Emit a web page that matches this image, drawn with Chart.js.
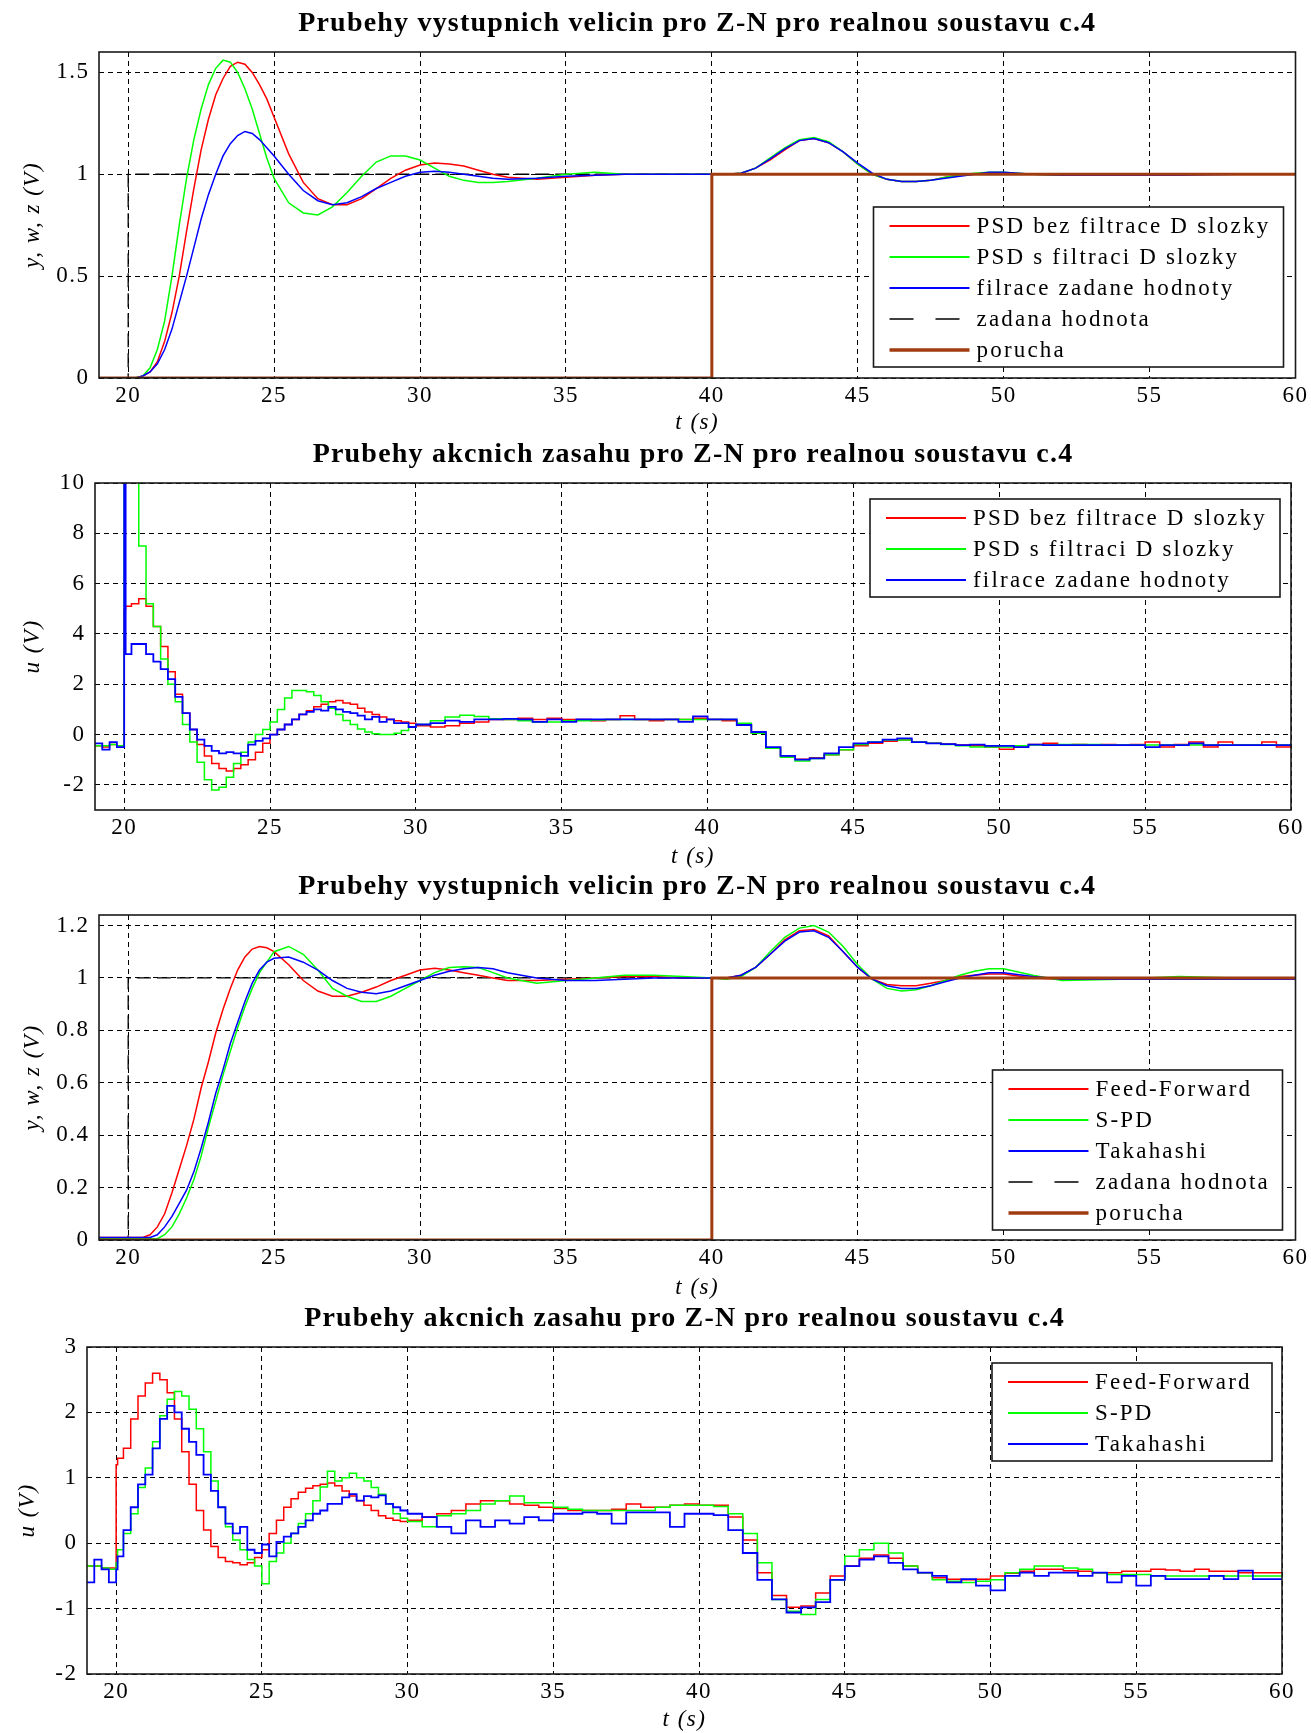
<!DOCTYPE html>
<html>
<head>
<meta charset="utf-8">
<script src="https://cdn.jsdelivr.net/npm/chart.js@4.4.0/dist/chart.umd.min.js"></script>
<style>
  body { margin: 0; background: #fff; }
  #page { position: relative; width: 1311px; height: 1733px; overflow: hidden; }
  canvas { position: absolute; left: 0; }
</style>
</head>
<body>
<div id="page">
  <canvas id="chart1" width="1311" height="434" style="top:6px"></canvas>
  <canvas id="chart2" width="1311" height="435" style="top:437px"></canvas>
  <canvas id="chart3" width="1311" height="433" style="top:869px"></canvas>
  <canvas id="chart4" width="1311" height="433" style="top:1301px"></canvas>
</div>
<script>
// tick values
const xTicks = [20, 25, 30, 35, 40, 45, 50, 55, 60];
const yTicksOut1 = [0, 0.5, 1, 1.5];
const yTicksU1 = [-2, 0, 2, 4, 6, 8, 10];
const yTicksOut2 = [0, 0.2, 0.4, 0.6, 0.8, 1, 1.2];
const yTicksU2 = [-2, -1, 0, 1, 2, 3];

const labelsPsd = ['PSD bez filtrace D slozky', 'PSD s filtraci D slozky', 'filrace zadane hodnoty'];
const labelsAlt = ['Feed-Forward', 'S-PD', 'Takahashi'];

// zadana hodnota (w) a porucha (z)
const tSet = [19, 20, 20, 60];
const wSet = [0, 0, 1, 1];
const tDist = [19, 40, 40, 60];
const zDist = [0, 0, 1, 1];

// cas pro vystupni veliciny
const tOut = [19, 20.25, 20.5, 20.75, 21, 21.25, 21.5, 21.75, 22, 22.25, 22.5, 22.75, 23, 23.25, 23.5, 23.75, 24, 24.25, 24.5, 24.75, 25,
  25.5, 26, 26.5, 27, 27.5, 28, 28.5, 29, 29.5, 30, 30.5, 31, 31.5, 32, 32.5,
  33, 34, 35, 36, 37, 38, 39, 40,
  40.5, 41, 41.5, 42, 42.5, 43, 43.5, 44, 44.5, 45, 45.5, 46, 46.5, 47, 47.5, 48, 48.5, 49, 49.5, 50,
  51, 52, 54, 56, 58, 60];

const yPsdRaw = [0, 0, 0.01, 0.03, 0.08, 0.18, 0.32, 0.5, 0.72, 0.93, 1.12, 1.27, 1.39, 1.47, 1.53, 1.55, 1.54, 1.5, 1.44, 1.37, 1.28,
  1.1, 0.96, 0.88, 0.85, 0.85, 0.88, 0.93, 0.98, 1.02, 1.045, 1.055, 1.05, 1.04, 1.02, 1.0,
  0.985, 0.975, 0.985, 0.995, 1.0, 1.0, 1.0, 1.0,
  1.0, 1.005, 1.03, 1.07, 1.12, 1.165, 1.175, 1.155, 1.11, 1.05, 1.0, 0.975, 0.965, 0.965, 0.97, 0.985, 0.995, 1.0, 1.005, 1.005,
  1.0, 1.0, 1.0, 1.0, 1.0, 1.0];
const yPsdFilt = [0, 0, 0.01, 0.05, 0.14, 0.28, 0.5, 0.75, 0.98, 1.17, 1.32, 1.44, 1.52, 1.56, 1.55, 1.5, 1.42, 1.32, 1.2, 1.08, 0.98,
  0.86, 0.81, 0.8, 0.84, 0.91, 0.99, 1.06, 1.09, 1.09, 1.07, 1.03, 0.99, 0.97, 0.96, 0.96,
  0.965, 0.98, 1.0, 1.01, 1.0, 1.0, 1.0, 1.0,
  1.0, 1.005, 1.03, 1.08, 1.13, 1.17, 1.18, 1.16, 1.11, 1.05, 1.0, 0.975, 0.965, 0.965, 0.97, 0.985, 0.995, 1.005, 1.01, 1.01,
  1.0, 0.995, 0.995, 1.0, 1.0, 1.0];
const yRefFilt = [0, 0, 0.01, 0.03, 0.07, 0.14, 0.24, 0.37, 0.5, 0.64, 0.78, 0.9, 1.0, 1.09, 1.15, 1.19, 1.21, 1.2, 1.17, 1.13, 1.09,
  1.0, 0.92, 0.87, 0.85, 0.86, 0.89, 0.93, 0.96, 0.99, 1.01, 1.015, 1.01, 1.0, 0.99, 0.98,
  0.975, 0.98, 0.99, 0.995, 1.0, 1.0, 1.0, 1.0,
  1.0, 1.005, 1.03, 1.075, 1.125, 1.165, 1.175, 1.155, 1.11, 1.055, 1.005, 0.975, 0.965, 0.965, 0.97, 0.98, 0.99, 1.0, 1.01, 1.01,
  1.0, 0.995, 0.995, 0.995, 1.0, 1.0];

const yFF = [0.01, 0.01, 0.01, 0.02, 0.05, 0.1, 0.18, 0.27, 0.36, 0.46, 0.58, 0.68, 0.79, 0.88, 0.96, 1.03, 1.08, 1.11, 1.12, 1.115, 1.1,
  1.05, 0.99, 0.95, 0.93, 0.93, 0.945, 0.965, 0.99, 1.01, 1.03, 1.037, 1.03, 1.02, 1.01, 1.0,
  0.99, 0.99, 0.995, 1.0, 1.005, 1.005, 1.0, 1.0,
  1.0, 1.01, 1.04, 1.09, 1.145, 1.18, 1.185, 1.16, 1.1, 1.04, 0.995, 0.975, 0.97, 0.97, 0.98, 0.99, 1.005, 1.01, 1.015, 1.015,
  1.0, 0.995, 1.0, 1.0, 0.995, 1.0];
const ySPD = [0.005, 0.005, 0.005, 0.005, 0.005, 0.02, 0.05, 0.1, 0.16, 0.23, 0.32, 0.43, 0.53, 0.63, 0.72, 0.81, 0.89, 0.96, 1.02, 1.06, 1.1,
  1.12, 1.09, 1.03, 0.96, 0.93, 0.91, 0.91, 0.93, 0.96, 0.99, 1.02, 1.04, 1.043, 1.04, 1.02,
  1.0, 0.98, 0.99, 1.0, 1.01, 1.01, 1.005, 1.0,
  0.995, 1.005, 1.04, 1.1, 1.155, 1.19, 1.2, 1.175, 1.12, 1.05, 0.995, 0.96, 0.95, 0.955, 0.97, 0.99, 1.01, 1.025, 1.035, 1.035,
  1.01, 0.99, 0.995, 1.005, 1.0, 1.0];
const yTak = [0.01, 0.01, 0.01, 0.01, 0.02, 0.05, 0.09, 0.14, 0.19, 0.26, 0.35, 0.45, 0.56, 0.65, 0.75, 0.83, 0.91, 0.98, 1.03, 1.06, 1.075,
  1.08, 1.06, 1.03, 0.99, 0.96, 0.945, 0.94, 0.95, 0.97, 0.99, 1.01, 1.025, 1.035, 1.04, 1.035,
  1.02, 1.0, 0.99, 0.99, 0.995, 1.0, 1.0, 1.0,
  1.0, 1.01, 1.04, 1.09, 1.14, 1.175, 1.18, 1.155, 1.1, 1.04, 0.995, 0.97, 0.96, 0.96, 0.97, 0.985, 1.0, 1.01, 1.02, 1.02,
  1.005, 0.995, 0.995, 0.995, 0.995, 0.995];

// cas pro akcni zasahy
const tU = [19, 19.25, 19.5, 19.75, 20, 20.05,
  20.25, 20.5, 20.75, 21, 21.25, 21.5, 21.75, 22, 22.25, 22.5,
  22.75, 23, 23.25, 23.5, 23.75, 24, 24.25, 24.5, 24.75, 25,
  25.25, 25.5, 25.75, 26, 26.25, 26.5, 26.75, 27, 27.25, 27.5,
  27.75, 28, 28.25, 28.5, 28.75, 29, 29.25, 29.5, 29.75, 30,
  30.5, 31, 31.5, 32, 32.5, 33, 33.5, 34, 34.5, 35,
  35.5, 36, 36.5, 37, 37.5, 38, 38.5, 39, 39.5, 40,
  40.5, 41, 41.5, 42, 42.5, 43, 43.5, 44, 44.5, 45,
  45.5, 46, 46.5, 47, 47.5, 48, 48.5, 49, 49.5, 50,
  50.5, 51, 51.5, 52, 52.5, 53, 53.5, 54, 54.5, 55,
  55.5, 56, 56.5, 57, 57.5, 58, 58.5, 59, 59.5, 60];

const uPsdRaw = [-0.45, -0.5, -0.4, -0.45, 5.0, 5.1,
  5.2, 5.4, 5.1, 4.3, 3.5, 2.5, 1.6, 0.85, 0.2, -0.4,
  -0.85, -1.15, -1.35, -1.45, -1.35, -1.2, -1.0, -0.7, -0.35, 0.0,
  0.2, 0.4, 0.6, 0.8, 0.95, 1.1, 1.2, 1.3, 1.35, 1.25,
  1.2, 1.05, 0.9, 0.8, 0.7, 0.6, 0.55, 0.5, 0.45, 0.35,
  0.3, 0.35, 0.45, 0.5, 0.6, 0.6, 0.65, 0.6, 0.65, 0.6,
  0.6, 0.55, 0.6, 0.75, 0.6, 0.55, 0.6, 0.6, 0.65, 0.6,
  0.55, 0.42, 0.05, -0.55, -0.85, -0.98, -0.92, -0.8, -0.6, -0.45,
  -0.35, -0.27, -0.22, -0.3, -0.35, -0.38, -0.42, -0.45, -0.5, -0.58,
  -0.45, -0.4, -0.35, -0.42, -0.4, -0.42, -0.4, -0.42, -0.4, -0.3,
  -0.5, -0.4, -0.3, -0.5, -0.3, -0.42, -0.42, -0.3, -0.5, -0.42];
const uPsdFilt = [-0.45, -0.45, -0.4, -0.45, 10.5, 10.5,
  10.5, 7.5, 5.2, 4.3, 3.0, 2.0, 1.3, 0.4, -0.3, -1.1,
  -1.8, -2.2, -2.1, -1.7, -1.15, -0.7, -0.3, 0.0, 0.2, 0.5,
  1.0, 1.45, 1.75, 1.75, 1.7, 1.55, 1.3, 1.05, 0.8, 0.56,
  0.4, 0.22, 0.1, 0.03, 0.0, 0.0, 0.05, 0.16, 0.3, 0.4,
  0.55, 0.7, 0.77, 0.72, 0.63, 0.6, 0.55, 0.5, 0.5, 0.55,
  0.55, 0.58, 0.6, 0.6, 0.6, 0.6, 0.6, 0.6, 0.6, 0.6,
  0.6, 0.45, 0.05, -0.55, -0.9, -1.05, -0.95, -0.8, -0.6, -0.4,
  -0.3, -0.22, -0.22, -0.3, -0.35, -0.4, -0.45, -0.5, -0.5, -0.5,
  -0.45, -0.42, -0.42, -0.4, -0.4, -0.4, -0.42, -0.42, -0.42, -0.42,
  -0.42, -0.42, -0.42, -0.42, -0.42, -0.42, -0.42, -0.42, -0.42, -0.42];
const uRefFilt = [-0.35, -0.6, -0.3, -0.5, 10.5, 3.2,
  3.6, 3.6, 3.2, 2.9, 2.6, 2.2, 1.5, 0.85, 0.2, -0.2,
  -0.45, -0.65, -0.75, -0.7, -0.75, -0.85, -0.4, -0.25, -0.15, 0.0,
  0.2, 0.4, 0.6, 0.8, 0.9, 1.0, 0.95, 1.1, 1.0, 0.9,
  0.85, 0.75, 0.6, 0.7, 0.5, 0.6, 0.45, 0.45, 0.3, 0.4,
  0.45, 0.55, 0.5, 0.6, 0.6, 0.62, 0.6, 0.5, 0.6, 0.5,
  0.6, 0.6, 0.6, 0.6, 0.6, 0.6, 0.6, 0.5, 0.72, 0.6,
  0.6, 0.38, 0.1, -0.5, -0.85, -1.0, -0.95, -0.75, -0.5, -0.35,
  -0.3, -0.2, -0.15, -0.3, -0.35, -0.38, -0.42, -0.4, -0.45, -0.45,
  -0.5, -0.4, -0.42, -0.42, -0.42, -0.42, -0.42, -0.42, -0.42, -0.5,
  -0.42, -0.42, -0.35, -0.42, -0.42, -0.42, -0.42, -0.42, -0.42, -0.35];

const uFF = [-0.35, -0.35, -0.38, -0.38, 1.2, 1.3,
  1.45, 1.9, 2.25, 2.45, 2.6, 2.5, 2.3, 1.9, 1.4, 0.9,
  0.5, 0.2, -0.05, -0.22, -0.28, -0.3, -0.33, -0.3, -0.22, -0.1,
  0.15, 0.35, 0.55, 0.68, 0.78, 0.84, 0.88, 0.9, 0.92, 0.88,
  0.8, 0.72, 0.65, 0.58, 0.5, 0.42, 0.38, 0.35, 0.33, 0.35,
  0.4, 0.45, 0.5, 0.6, 0.65, 0.65, 0.6, 0.58, 0.55, 0.53,
  0.5, 0.5, 0.5, 0.52, 0.6, 0.55, 0.55, 0.58, 0.6, 0.58,
  0.58, 0.4, 0.05, -0.45, -0.8, -0.98, -0.96, -0.76, -0.5, -0.35,
  -0.23, -0.18, -0.23, -0.35, -0.45, -0.53, -0.55, -0.56, -0.55, -0.5,
  -0.46, -0.43, -0.4, -0.4, -0.42, -0.43, -0.45, -0.45, -0.43, -0.43,
  -0.4, -0.41, -0.43, -0.4, -0.43, -0.43, -0.45, -0.45, -0.45, -0.45];
const uSPD = [-0.35, -0.35, -0.38, -0.4, -0.3, -0.1,
  0.15, 0.45, 0.85, 1.15, 1.55, 1.95, 2.2, 2.32, 2.25, 2.05,
  1.75, 1.4, 0.95, 0.55, 0.25, 0.05, -0.1, -0.25, -0.35, -0.62,
  -0.28, -0.15, 0.0, 0.15, 0.3, 0.45, 0.65, 0.86, 1.1, 0.95,
  1.0, 1.07, 1.0, 0.95, 0.85, 0.75, 0.6, 0.45, 0.38, 0.33,
  0.25, 0.42, 0.45, 0.5, 0.6, 0.65, 0.72, 0.62, 0.62, 0.55,
  0.52, 0.5, 0.5, 0.5, 0.5, 0.5, 0.55, 0.58, 0.58, 0.58,
  0.56, 0.45, 0.15, -0.3, -0.86, -1.04, -1.09, -0.86, -0.56, -0.2,
  -0.1, 0.0, -0.15, -0.35, -0.45, -0.56, -0.58, -0.6, -0.58, -0.56,
  -0.45, -0.4, -0.35, -0.35, -0.38, -0.4, -0.45, -0.48, -0.48, -0.48,
  -0.5, -0.5, -0.5, -0.5, -0.5, -0.5, -0.5, -0.5, -0.5, -0.5];
const uTak = [-0.6, -0.25, -0.4, -0.6, -0.4, -0.2,
  0.2, 0.55, 0.9, 1.05, 1.45, 1.9, 2.1, 2.0, 1.75, 1.55,
  1.35, 1.05, 0.8, 0.55, 0.3, 0.15, 0.25, -0.1, -0.15, -0.02,
  -0.2, 0.02, 0.1, 0.15, 0.25, 0.35, 0.45, 0.5, 0.6, 0.6,
  0.7, 0.75, 0.65, 0.72, 0.7, 0.73, 0.6, 0.55, 0.5, 0.45,
  0.4, 0.25, 0.15, 0.35, 0.25, 0.35, 0.3, 0.4, 0.35, 0.45,
  0.45, 0.47, 0.45, 0.3, 0.47, 0.47, 0.47, 0.25, 0.45, 0.45,
  0.43, 0.2, -0.15, -0.56, -0.86, -1.06, -0.98, -0.9, -0.56, -0.35,
  -0.25, -0.2, -0.3, -0.4, -0.45, -0.5, -0.6, -0.55, -0.65, -0.72,
  -0.5, -0.45, -0.5, -0.45, -0.45, -0.5, -0.45, -0.6, -0.5, -0.65,
  -0.5, -0.55, -0.55, -0.55, -0.5, -0.55, -0.42, -0.55, -0.55, -0.55];

const FAMILY = '"Liberation Serif", "Times New Roman", serif';
const RED = '#ff0000', GREEN = '#00ff00', BLUE = '#0000ff', BROWN = '#a03c10';

function pts(t, v) {
  return t.map((x, i) => ({ x: x, y: v[i] }));
}

// ramecek, nadpis a legenda uvnitr grafu
const framePlugin = {
  id: 'frame',
  beforeDraw(chart) {
    chart.ctx.letterSpacing = '1.5px';
  },
  afterDraw(chart, args, opts) {
    const ctx = chart.ctx;
    const a = chart.chartArea;
    ctx.save();
    ctx.setLineDash([]);
    ctx.lineWidth = 1.6;
    ctx.strokeStyle = '#1a1a1a';
    ctx.strokeRect(a.left, a.top, a.right - a.left, a.bottom - a.top);

    ctx.fillStyle = '#000';
    ctx.font = 'bold 28px ' + FAMILY;
    ctx.letterSpacing = '1.2px';
    ctx.textAlign = 'center';
    ctx.textBaseline = 'middle';
    ctx.fillText(opts.title, (a.left + a.right) / 2, a.top - 28);

    const lg = opts.legend;
    const rows = chart.data.datasets;
    const h = 19 + (rows.length - 1) * 31 + 17;
    const bx = a.right - lg.dx - lg.width;
    const by = lg.corner === 'top' ? a.top + lg.dy : a.bottom - lg.dy - h;
    ctx.fillStyle = '#fff';
    ctx.fillRect(bx, by, lg.width, h);
    ctx.strokeRect(bx, by, lg.width, h);
    ctx.font = '23px ' + FAMILY;
    ctx.letterSpacing = '2.2px';
    ctx.textAlign = 'left';
    rows.forEach((ds, i) => {
      const y = by + 19 + i * 31;
      ctx.beginPath();
      ctx.setLineDash(ds.legendDash || []);
      ctx.strokeStyle = ds.borderColor;
      ctx.lineWidth = ds.borderWidth + 0.3;
      ctx.moveTo(bx + 16, y);
      ctx.lineTo(bx + 96, y);
      ctx.stroke();
      ctx.setLineDash([]);
      ctx.fillStyle = '#000';
      ctx.fillText(ds.label, bx + 103, y + 1);
    });
    ctx.restore();
  }
};

function makeChart(id, cfg) {
  const ctx = document.getElementById(id).getContext('2d');
  return new Chart(ctx, {
    type: 'line',
    data: { datasets: cfg.datasets },
    options: {
      responsive: false,
      animation: false,
      events: [],
      layout: { padding: { top: 46, right: cfg.padRight, left: 0, bottom: 0 } },
      elements: { point: { radius: 0 }, line: { tension: 0 } },
      plugins: {
        legend: { display: false },
        tooltip: { enabled: false },
        frame: { title: cfg.title, legend: cfg.legend }
      },
      scales: {
        x: {
          type: 'linear', min: 19, max: 60,
          afterBuildTicks: axis => { axis.ticks = xTicks.map(v => ({ value: v })); },
          afterFit: axis => { axis.height = cfg.xH; },
          grid: { color: '#000', lineWidth: 1, drawTicks: false },
          border: { display: false, dash: [5, 4] },
          ticks: { padding: 4, autoSkip: false, maxRotation: 0, color: '#000',
                   font: { family: FAMILY, size: 23 }, callback: v => String(v) },
          title: { display: true, text: 't (s)', color: '#000',
                   font: { family: FAMILY, size: 23, style: 'italic' },
                   padding: { top: 0, bottom: cfg.xTitlePad } }
        },
        y: {
          type: 'linear', min: cfg.yMin, max: cfg.yMax,
          afterBuildTicks: axis => { axis.ticks = cfg.yTicks.map(v => ({ value: v })); },
          afterFit: axis => { axis.width = cfg.yW; },
          grid: { color: '#000', lineWidth: 1, drawTicks: false },
          border: { display: false, dash: [5, 4] },
          ticks: { padding: 9.5, color: '#000', font: { family: FAMILY, size: 23 }, callback: v => String(v) },
          title: { display: true, text: cfg.yTitle, color: '#000',
                   font: { family: FAMILY, size: 23, style: 'italic' },
                   padding: { top: cfg.yTitlePad, bottom: 0 } }
        }
      }
    },
    plugins: [framePlugin]
  });
}

function outSets(labels, r, g, b) {
  return [
    { label: labels[0], data: pts(tOut, r), borderColor: RED, borderWidth: 1.5, order: 3 },
    { label: labels[1], data: pts(tOut, g), borderColor: GREEN, borderWidth: 1.5, order: 2 },
    { label: labels[2], data: pts(tOut, b), borderColor: BLUE, borderWidth: 1.5, order: 1 },
    { label: 'zadana hodnota', data: pts(tSet, wSet), borderColor: '#000', borderWidth: 1.3,
      borderDash: [14, 6], legendDash: [24, 22], order: 4 },
    { label: 'porucha', data: pts(tDist, zDist), borderColor: BROWN, borderWidth: 3, order: 0 }
  ];
}

function uSets(labels, r, g, b) {
  return [
    { label: labels[0], data: pts(tU, r), borderColor: RED, borderWidth: 1.5, stepped: true, order: 3 },
    { label: labels[1], data: pts(tU, g), borderColor: GREEN, borderWidth: 1.5, stepped: true, order: 2 },
    { label: labels[2], data: pts(tU, b), borderColor: BLUE, borderWidth: 1.8, stepped: true, order: 1 }
  ];
}

const titleOut = 'Prubehy vystupnich velicin pro Z-N pro realnou soustavu c.4';
const titleU = 'Prubehy akcnich zasahu pro Z-N pro realnou soustavu c.4';

makeChart('chart1', {
  datasets: outSets(labelsPsd, yPsdRaw, yPsdFilt, yRefFilt),
  title: titleOut, yTitle: 'y, w, z (V)',
  yMin: 0, yMax: 1.6, yTicks: yTicksOut1,
  yW: 99, padRight: 15, xH: 62, xTitlePad: 3, yTitlePad: 19,
  legend: { corner: 'bottom', dx: 12, dy: 11, width: 410 }
});

makeChart('chart2', {
  datasets: uSets(labelsPsd, uPsdRaw, uPsdFilt, uRefFilt),
  title: titleU, yTitle: 'u (V)',
  yMin: -3, yMax: 10, yTicks: yTicksU1,
  yW: 95, padRight: 20, xH: 62, xTitlePad: 1.5, yTitlePad: 19,
  legend: { corner: 'top', dx: 11, dy: 16, width: 410 }
});

makeChart('chart3', {
  datasets: outSets(labelsAlt, yFF, ySPD, yTak),
  title: titleOut, yTitle: 'y, w, z (V)',
  yMin: 0, yMax: 1.24, yTicks: yTicksOut2,
  yW: 99, padRight: 15, xH: 62, xTitlePad: 0.5, yTitlePad: 19,
  legend: { corner: 'bottom', dx: 13, dy: 10, width: 290 }
});

makeChart('chart4', {
  datasets: uSets(labelsAlt, uFF, uSPD, uTak),
  title: titleU, yTitle: 'u (V)',
  yMin: -2, yMax: 3, yTicks: yTicksU2,
  yW: 87, padRight: 29, xH: 60, xTitlePad: 0, yTitlePad: 14,
  legend: { corner: 'top', dx: 10, dy: 16, width: 280 }
});
</script>
</body>
</html>
